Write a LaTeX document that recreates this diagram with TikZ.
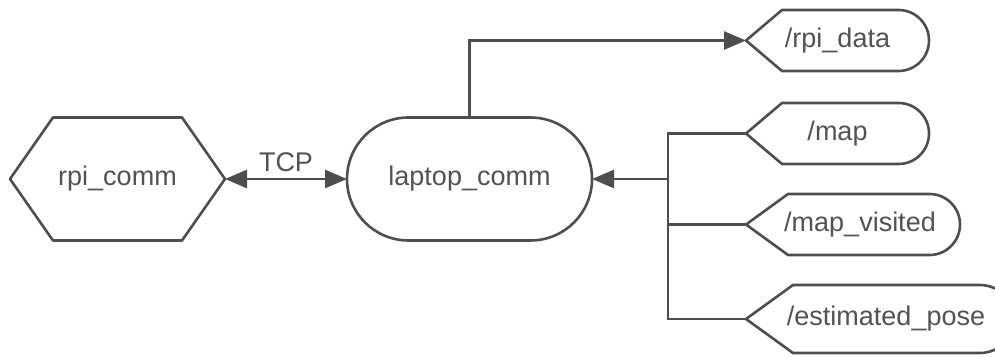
\documentclass[tikz,border=0pt]{standalone}
\usepackage{fontspec}
\setmainfont{Liberation Sans}
\usetikzlibrary{arrows.meta,shapes.misc,calc}

\definecolor{linegray}{RGB}{78,78,78}
\definecolor{textgray}{RGB}{82,82,82}

% outline of a topic tag: pointed on the left, rounded on the right
\newcommand\tagoutline[2]{%
  \draw[outline] let \p1=(#1.north east), \p2=(#1.south east), \n1={(\y1-\y2)/2} in
    (#1.west) -- ([xshift=#2]#1.north west) -- ([xshift=-\n1]#1.north east)
    arc[start angle=90, end angle=-90, radius=\n1]
    -- ([xshift=#2]#1.south west) -- cycle;}
% outline of a stretched hexagon
\newcommand\hexoutline[2]{%
  \draw[outline] (#1.west) -- ([xshift=#2]#1.north west) -- ([xshift=-#2]#1.north east)
    -- (#1.east) -- ([xshift=-#2]#1.south east) -- ([xshift=#2]#1.south west) -- cycle;}

\begin{document}
\begin{tikzpicture}[x=1pt, y=1pt,
  font=\fontsize{27}{32}\selectfont,
  outline/.style={draw=linegray, line width=2.6pt, line join=round},
  box/.style={rectangle, inner sep=0pt, outer sep=0pt, text=textgray},
  textright/.style={execute at begin node={\hspace*{#1}}},
  stadium/.style={rounded rectangle, draw=linegray, line width=2.6pt,
    inner sep=0pt, outer sep=0pt, text=textgray,
    minimum width=245pt, minimum height=123pt},
  wire/.style={draw=linegray, line width=2.6pt},
  tip/.style={-{Triangle[length=22pt, width=18pt]}}
]
\useasboundingbox (0,0) rectangle (995,356);

% communication nodes
\node[box, minimum width=215pt, minimum height=123pt] (rpi) at (117.5,177) {rpi\_comm};
\hexoutline{rpi}{43pt}
\node[stadium] (laptop) at (469.5,177) {laptop\_comm};

% topics
\node[box, minimum width=183pt, minimum height=61pt] (rpidata) at (837.5,315.5) {/rpi\_data};
\tagoutline{rpidata}{36pt}
\node[box, minimum width=183pt, minimum height=61pt] (map) at (837.5,222.5) {/map};
\tagoutline{map}{36pt}
\node[box, textright=14pt, minimum width=214pt, minimum height=61pt] (mapvis) at (853,131.5) {/map\_visited};
\tagoutline{mapvis}{42pt}
\node[box, textright=12pt, minimum width=268pt, minimum height=68pt] (pose) at (880,37) {/estimated\_pose};
\tagoutline{pose}{47pt}

% connectors
\draw[wire, {Triangle[length=22pt, width=18pt]}-{Triangle[length=22pt, width=18pt]}]
  (rpi.east) -- node[midway, above=6pt, inner sep=0pt, text=textgray] (tcp) {TCP} (laptop.west);
\draw[wire, tip] (laptop.north) |- (rpidata.west);

\coordinate (bus) at (668,177);
\draw[wire, tip] (map.west) -| (bus) -- (laptop.east);
\draw[wire] (mapvis.west) -- (mapvis.west -| bus);
\draw[wire] (pose.west) -| (bus);
\end{tikzpicture}
\end{document}
